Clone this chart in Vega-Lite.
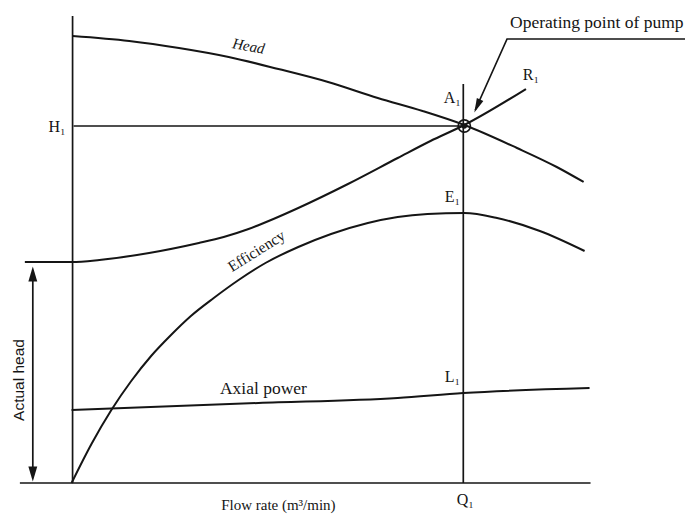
{
  "$schema": "https://vega.github.io/schema/vega-lite/v6.json",
  "width": 689,
  "height": 516,
  "autosize": {"type": "fit", "contains": "padding"},
  "padding": 0,
  "background": "white",
  "config": {"view": {"stroke": null}},
  "datasets": {
    "curves": [
      {"s": "Head", "i": 0, "q": 73, "h": 36},
      {"s": "Head", "i": 1, "q": 130, "h": 41},
      {"s": "Head", "i": 2, "q": 180, "h": 48},
      {"s": "Head", "i": 3, "q": 230, "h": 57},
      {"s": "Head", "i": 4, "q": 280, "h": 69},
      {"s": "Head", "i": 5, "q": 330, "h": 82},
      {"s": "Head", "i": 6, "q": 380, "h": 98},
      {"s": "Head", "i": 7, "q": 425, "h": 111},
      {"s": "Head", "i": 8, "q": 467, "h": 125},
      {"s": "Head", "i": 9, "q": 520, "h": 148},
      {"s": "Head", "i": 10, "q": 560, "h": 167},
      {"s": "Head", "i": 11, "q": 587, "h": 182},
      {"s": "R1", "i": 0, "q": 25, "h": 262},
      {"s": "R1", "i": 1, "q": 72, "h": 262},
      {"s": "R1", "i": 2, "q": 100, "h": 260},
      {"s": "R1", "i": 3, "q": 150, "h": 253},
      {"s": "R1", "i": 4, "q": 200, "h": 243},
      {"s": "R1", "i": 5, "q": 225, "h": 237},
      {"s": "R1", "i": 6, "q": 250, "h": 229},
      {"s": "R1", "i": 7, "q": 275, "h": 219},
      {"s": "R1", "i": 8, "q": 300, "h": 208},
      {"s": "R1", "i": 9, "q": 350, "h": 184},
      {"s": "R1", "i": 10, "q": 400, "h": 158},
      {"s": "R1", "i": 11, "q": 433, "h": 141},
      {"s": "R1", "i": 12, "q": 467, "h": 125},
      {"s": "R1", "i": 13, "q": 529, "h": 89},
      {"s": "Efficiency", "i": 0, "q": 72, "h": 483},
      {"s": "Efficiency", "i": 1, "q": 92, "h": 444},
      {"s": "Efficiency", "i": 2, "q": 112, "h": 410},
      {"s": "Efficiency", "i": 3, "q": 132, "h": 381},
      {"s": "Efficiency", "i": 4, "q": 152, "h": 356},
      {"s": "Efficiency", "i": 5, "q": 172, "h": 335},
      {"s": "Efficiency", "i": 6, "q": 192, "h": 316},
      {"s": "Efficiency", "i": 7, "q": 215, "h": 298},
      {"s": "Efficiency", "i": 8, "q": 240, "h": 280},
      {"s": "Efficiency", "i": 9, "q": 267, "h": 263},
      {"s": "Efficiency", "i": 10, "q": 300, "h": 247},
      {"s": "Efficiency", "i": 11, "q": 333, "h": 234},
      {"s": "Efficiency", "i": 12, "q": 370, "h": 223},
      {"s": "Efficiency", "i": 13, "q": 400, "h": 217},
      {"s": "Efficiency", "i": 14, "q": 430, "h": 214},
      {"s": "Efficiency", "i": 15, "q": 467, "h": 213},
      {"s": "Efficiency", "i": 16, "q": 500, "h": 218},
      {"s": "Efficiency", "i": 17, "q": 543, "h": 231},
      {"s": "Efficiency", "i": 18, "q": 588, "h": 251},
      {"s": "Axial power", "i": 0, "q": 72, "h": 410},
      {"s": "Axial power", "i": 1, "q": 260, "h": 403},
      {"s": "Axial power", "i": 2, "q": 400, "h": 398},
      {"s": "Axial power", "i": 3, "q": 466, "h": 393},
      {"s": "Axial power", "i": 4, "q": 593, "h": 388}
    ],
    "lines": [
      {"s": "H1", "i": 0, "q": 74, "h": 126},
      {"s": "H1", "i": 1, "q": 467, "h": 126},
      {"s": "Q1", "i": 0, "q": 466, "h": 84},
      {"s": "Q1", "i": 1, "q": 466, "h": 483},
      {"s": "base", "i": 0, "q": 20, "h": 483},
      {"s": "base", "i": 1, "q": 594, "h": 483},
      {"s": "yaxis", "i": 0, "q": 73, "h": 16},
      {"s": "yaxis", "i": 1, "q": 73, "h": 483},
      {"s": "actual", "i": 0, "q": 33, "h": 270},
      {"s": "actual", "i": 1, "q": 33, "h": 476},
      {"s": "leader", "i": 0, "q": 478, "h": 110},
      {"s": "leader", "i": 1, "q": 510, "h": 39},
      {"s": "leader", "i": 2, "q": 689, "h": 39}
    ],
    "heads": [
      {"k": "leader", "q": 480, "h": 106},
      {"k": "up", "q": 33, "h": 274},
      {"k": "down", "q": 33, "h": 474}
    ],
    "point": [{"label": "Operating point", "q": 467, "h": 126}],
    "labels": [
      {"t": "R₁", "q": 534, "h": 75},
      {"t": "A₁", "q": 455, "h": 98},
      {"t": "E₁", "q": 455, "h": 197},
      {"t": "L₁", "q": 455, "h": 377},
      {"t": "Q₁", "q": 468, "h": 500}
    ],
    "words": [
      {"t": "Axial power", "q": 265, "h": 389}
    ],
    "flow": [
      {"t": "Flow rate (m³/min)", "q": 280, "h": 505}
    ],
    "hlabel": [{"t": "H₁", "q": 66, "h": 127}],
    "oplabel": [{"t": "Operating point of pump", "q": 513, "h": 23}],
    "headlabel": [{"t": "Head", "q": 250, "h": 46}],
    "efflabel": [{"t": "Efficiency", "q": 258, "h": 251}],
    "actlabel": [{"t": "Actual head", "q": 19, "h": 380}]
  },
  "encoding": {
    "x": {"field": "q", "type": "quantitative", "scale": {"domain": [0, 689], "nice": false, "zero": false}, "axis": null},
    "y": {"field": "h", "type": "quantitative", "scale": {"domain": [0, 516], "reverse": true, "nice": false, "zero": false}, "axis": null}
  },
  "layer": [
    {
      "data": {"name": "curves"},
      "mark": {"type": "line", "color": "#151515", "strokeWidth": 2, "interpolate": "monotone"},
      "encoding": {"detail": {"field": "s"}, "order": {"field": "i", "type": "quantitative"}}
    },
    {
      "data": {"name": "lines"},
      "mark": {"type": "line", "color": "#151515", "strokeWidth": 1.7},
      "encoding": {"detail": {"field": "s"}, "order": {"field": "i", "type": "quantitative"}}
    },
    {
      "data": {"name": "point"},
      "mark": {"type": "point", "shape": "circle", "filled": false, "size": 150, "strokeWidth": 1.6, "color": "#151515", "opacity": 1}
    },
    {
      "data": {"name": "point"},
      "mark": {"type": "point", "shape": "circle", "filled": true, "size": 30, "color": "#151515", "opacity": 1, "dx": -3}
    },
    {
      "data": {"name": "heads"},
      "transform": [{"filter": "datum.k == 'leader'"}],
      "mark": {"type": "point", "shape": "M0,-1L0.5,1L-0.5,1Z", "filled": true, "size": 200, "angle": 204, "color": "#151515", "opacity": 1}
    },
    {
      "data": {"name": "heads"},
      "transform": [{"filter": "datum.k == 'up'"}],
      "mark": {"type": "point", "shape": "M0,-1L0.6,1L-0.6,1Z", "filled": true, "size": 220, "angle": 0, "color": "#151515", "opacity": 1}
    },
    {
      "data": {"name": "heads"},
      "transform": [{"filter": "datum.k == 'down'"}],
      "mark": {"type": "point", "shape": "M0,-1L0.6,1L-0.6,1Z", "filled": true, "size": 220, "angle": 180, "color": "#151515", "opacity": 1}
    },
    {
      "data": {"name": "labels"},
      "mark": {"type": "text", "font": "Liberation Serif", "fontSize": 16, "color": "#151515", "align": "center", "baseline": "middle"},
      "encoding": {"text": {"field": "t"}}
    },
    {
      "data": {"name": "words"},
      "mark": {"type": "text", "font": "Liberation Serif", "fontSize": 17.5, "color": "#151515", "align": "center", "baseline": "middle"},
      "encoding": {"text": {"field": "t"}}
    },
    {
      "data": {"name": "flow"},
      "mark": {"type": "text", "font": "Liberation Serif", "fontSize": 15, "color": "#151515", "align": "center", "baseline": "middle"},
      "encoding": {"text": {"field": "t"}}
    },
    {
      "data": {"name": "hlabel"},
      "mark": {"type": "text", "font": "Liberation Serif", "fontSize": 16, "color": "#151515", "align": "right", "baseline": "middle"},
      "encoding": {"text": {"field": "t"}}
    },
    {
      "data": {"name": "oplabel"},
      "mark": {"type": "text", "font": "Liberation Serif", "fontSize": 17.5, "color": "#151515", "align": "left", "baseline": "middle"},
      "encoding": {"text": {"field": "t"}}
    },
    {
      "data": {"name": "headlabel"},
      "mark": {"type": "text", "font": "Liberation Serif", "fontSize": 15, "fontStyle": "italic", "angle": 10, "color": "#151515", "align": "center", "baseline": "middle"},
      "encoding": {"text": {"field": "t"}}
    },
    {
      "data": {"name": "efflabel"},
      "mark": {"type": "text", "font": "Liberation Serif", "fontSize": 15.5, "angle": 328, "color": "#151515", "align": "center", "baseline": "middle"},
      "encoding": {"text": {"field": "t"}}
    },
    {
      "data": {"name": "actlabel"},
      "mark": {"type": "text", "font": "Liberation Sans", "fontSize": 15.5, "angle": 270, "color": "#151515", "align": "center", "baseline": "middle"},
      "encoding": {"text": {"field": "t"}}
    }
  ]
}
